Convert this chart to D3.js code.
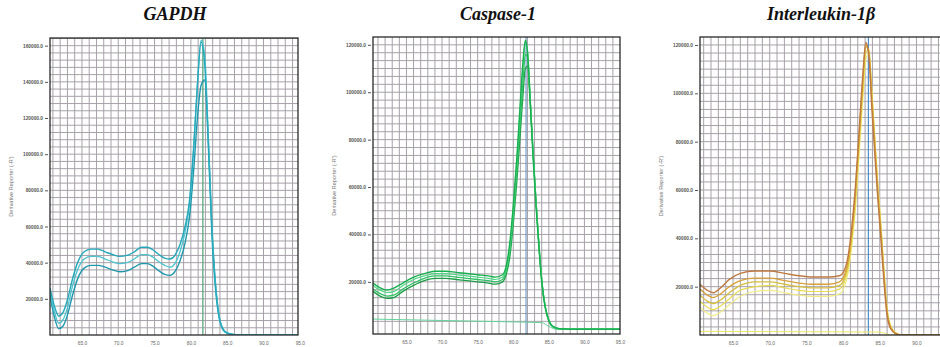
<!DOCTYPE html>
<html><head><meta charset="utf-8">
<script src="https://cdn.jsdelivr.net/npm/d3@7"></script>
<style>body{margin:0;background:#fff;overflow:hidden}</style></head>
<body><svg id="c" width="940" height="347"></svg>
<script>
// ---------- DATA ----------
const titles = ["GAPDH", "Caspase-1", "Interleukin-1β"];
const yAxisTitle = "Derivative Reporter (-R')";
const xTickValues = [65, 70, 75, 80, 85, 90, 95];
const gapdhYTicks = [20000, 40000, 60000, 80000, 100000, 120000, 140000, 160000];
const caspYTicks = [20000, 40000, 60000, 80000, 100000, 120000];
const ilYTicks = [20000, 40000, 60000, 80000, 100000, 120000];
const tmValues = [81.65, 81.8, 83.45];

const gapdhTemp = [60.6, 61.2, 61.8, 62.4, 63.0, 63.7, 64.5, 65.3, 66.2, 67.2, 68.2, 69.2, 70.2, 71.2, 72.2, 73.2, 74.0, 74.8, 75.6, 76.4, 77.1, 77.8, 78.5, 79.2, 79.8, 80.4, 80.9, 81.4, 81.9, 82.4, 82.9, 83.4, 83.9, 84.4, 85.0, 86.0, 88.0, 91.0, 94.75];
const gapdhA = [26000, 16000, 10500, 12500, 19500, 31000, 41000, 46000, 47500, 47500, 46000, 44500, 43500, 44000, 46000, 48500, 48500, 47000, 44500, 42500, 42000, 44000, 50000, 60000, 74000, 105000, 138000, 162000, 150000, 105000, 55000, 25000, 9000, 3000, 1000, 200, 0, 0, 0];
const gapdhB = [24000, 13000, 6500, 8500, 15000, 27000, 37000, 42000, 43500, 43500, 42000, 40500, 39500, 40000, 42000, 44500, 44500, 43000, 40500, 38500, 37500, 39500, 46000, 57000, 72000, 104000, 139000, 163000, 155000, 110000, 58000, 27000, 10000, 3200, 1000, 200, 0, 0, 0];
const gapdhC = [22000, 10000, 3500, 5000, 11000, 22000, 32000, 37000, 38500, 38500, 37500, 36000, 35000, 35500, 37500, 39500, 39500, 38000, 35500, 33500, 33000, 35000, 41000, 51000, 65000, 92000, 120000, 138000, 141000, 108000, 60000, 28000, 10500, 3500, 1100, 200, 0, 0, 0];

const caspTemp = [60.3, 61.3, 62.3, 63.3, 64.5, 66.0, 67.5, 69.0, 70.5, 72.0, 73.5, 75.0, 76.5, 77.5, 78.5, 79.0, 79.5, 80.0, 80.5, 81.0, 81.4, 81.7, 82.0, 82.4, 82.8, 83.2, 83.6, 84.0, 84.5, 85.0, 85.6, 86.5, 88.0, 95.0];
const caspA = [19500, 17500, 16500, 17500, 19500, 22000, 23500, 24500, 24500, 24000, 23500, 23000, 22500, 22000, 23000, 26500, 36000, 52000, 72000, 96000, 114000, 122000, 117000, 95000, 72000, 52000, 35000, 20000, 9000, 3500, 1000, 200, 0, 0];
const caspB = [18500, 16500, 15500, 16000, 18500, 21000, 22500, 23500, 23500, 23000, 22500, 22000, 21500, 21000, 22000, 25500, 34000, 50000, 70000, 94000, 112000, 121000, 118000, 97000, 74000, 54000, 36000, 21000, 9500, 3800, 1100, 200, 0, 0];
const caspC = [17000, 15000, 14000, 14500, 17000, 19500, 21500, 22500, 22500, 22000, 21500, 21000, 20500, 20000, 21000, 24500, 32000, 47000, 66000, 88000, 106000, 116000, 115000, 96000, 74000, 54000, 36000, 21000, 9500, 3800, 1100, 200, 0, 0];
const caspD = [16000, 14000, 13000, 13500, 16000, 18500, 20500, 21500, 21500, 21000, 20500, 20000, 19500, 19000, 20000, 23000, 30000, 44000, 62000, 83000, 100000, 110000, 111000, 95000, 74000, 54000, 36000, 21000, 9500, 3800, 1100, 200, 0, 0];
const caspNtcTemp = [60.3, 65, 70, 75, 80, 84, 85, 86, 95];
const caspNtc = [4300, 4000, 3700, 3400, 3100, 2800, 1200, 0, 0];

const ilTemp = [60.5, 61.5, 62.3, 63.3, 64.5, 66.0, 68.0, 70.0, 72.0, 74.0, 76.0, 78.0, 79.5, 80.2, 80.7, 81.2, 81.7, 82.2, 82.7, 83.1, 83.5, 83.9, 84.3, 84.7, 85.2, 85.6, 86.0, 86.5, 87.2, 88.0, 94.5];
const ilBrown = [21000, 18500, 17500, 19500, 23000, 25500, 26500, 26500, 25500, 24500, 24000, 24000, 24500, 27000, 33000, 45000, 62000, 85000, 108000, 121000, 116000, 95000, 76000, 58000, 38000, 21000, 8000, 2500, 500, 0, 0];
const ilGold = [19000, 16500, 15500, 17000, 20000, 22500, 23500, 23500, 22500, 21500, 21000, 21000, 22000, 25000, 31000, 43000, 60000, 83000, 106000, 120000, 117000, 98000, 79000, 60000, 40000, 23000, 9000, 3000, 600, 0, 0];
const ilOlive = [16500, 14000, 13000, 14500, 17500, 20500, 22000, 22000, 21000, 20000, 19500, 19500, 20500, 23500, 29500, 41000, 58000, 81000, 104000, 119000, 118000, 100000, 81000, 62000, 42000, 24000, 10000, 3200, 700, 0, 0];
const ilYellow = [14000, 11500, 10500, 12000, 15000, 18500, 20000, 20500, 19500, 18500, 18000, 18000, 19000, 22000, 28000, 39000, 55000, 78000, 101000, 117000, 118000, 101000, 82000, 63000, 43000, 25000, 10500, 3500, 800, 0, 0];
const ilPale = [11500, 9000, 8000, 9500, 12500, 16000, 18000, 18500, 17500, 16500, 16000, 16000, 17000, 20000, 26000, 37000, 53000, 75000, 98000, 114000, 117000, 102000, 83000, 64000, 44000, 26000, 11000, 3800, 900, 0, 0];
const ilNtcTemp = [60.5, 70, 80, 85, 86.5, 94.5];
const ilNtc = [1500, 1400, 1300, 1200, 0, 0];

// ---------- DRAW ----------
const svg = d3.select("#c");
const panels = [
  { title: titles[0], box: {x0: 50, x1: 298, y0: 38, y1: 335}, xDom: [60.6, 94.75], yDom: [0, 164250],
    yTicks: gapdhYTicks, gridY: 4000, titleX: 175, tm: tmValues[0], tmColor: "#5aa982", tmW: 1.3,
    series: [
      {t: gapdhTemp, v: gapdhC, c: "#1f98ad", w: 1.4},
      {t: gapdhTemp, v: gapdhB, c: "#4cc3cf", w: 1.3},
      {t: gapdhTemp, v: gapdhA, c: "#25a8bb", w: 1.4}
    ]},
  { title: titles[1], box: {x0: 373, x1: 620, y0: 37, y1: 334}, xDom: [60.3, 95.0], yDom: [-2000, 123300],
    yTicks: caspYTicks, gridY: 10000/3, titleX: 498, tm: tmValues[1], tmColor: "#5a8fc0", tmW: 1,
    series: [
      {t: caspNtcTemp, v: caspNtc, c: "#62d49a", w: 1},
      {t: caspTemp, v: caspD, c: "#1e9e48", w: 1.3},
      {t: caspTemp, v: caspC, c: "#2fc163", w: 1.3},
      {t: caspTemp, v: caspB, c: "#4fd884", w: 1.2},
      {t: caspTemp, v: caspA, c: "#17b04e", w: 1.4}
    ]},
  { title: titles[2], box: {x0: 700, x1: 948, y0: 37, y1: 335}, xDom: [60.5, 94.3], yDom: [0, 123300],
    yTicks: ilYTicks, gridY: 10000/3, titleX: 821, tm: tmValues[2], tmColor: "#4a90d0", tmW: 1.2,
    series: [
      {t: ilNtcTemp, v: ilNtc, c: "#ece668", w: 1},
      {t: ilTemp, v: ilPale, c: "#f1ec86", w: 1.2},
      {t: ilTemp, v: ilYellow, c: "#e8dc52", w: 1.2},
      {t: ilTemp, v: ilOlive, c: "#d6bf3c", w: 1.3},
      {t: ilTemp, v: ilGold, c: "#d8a03a", w: 1.3},
      {t: ilTemp, v: ilBrown, c: "#bf7a42", w: 1.4}
    ]}
];

panels.forEach((p, i) => {
  const b = p.box;
  const x = d3.scaleLinear().domain(p.xDom).range([b.x0, b.x1]);
  const y = d3.scaleLinear().domain(p.yDom).range([b.y1, b.y0]);
  const g = svg.append("g");
  const clipId = "clip" + i;
  svg.append("clipPath").attr("id", clipId).append("rect")
    .attr("x", b.x0).attr("y", b.y0).attr("width", b.x1 - b.x0).attr("height", b.y1 - b.y0);

  // grid
  const grid = g.append("g").attr("clip-path", `url(#${clipId})`);
  d3.range(Math.ceil(p.xDom[0]), p.xDom[1], 1).forEach(t => {
    grid.append("line").attr("x1", x(t)).attr("x2", x(t)).attr("y1", b.y0).attr("y2", b.y1)
      .attr("stroke", "#a6a1a8").attr("stroke-width", 1);
  });
  d3.range(p.gridY, p.yDom[1], p.gridY).forEach(v => {
    grid.append("line").attr("x1", b.x0).attr("x2", b.x1).attr("y1", y(v)).attr("y2", y(v))
      .attr("stroke", "#a6a1a8").attr("stroke-width", 1);
  });

  // Tm marker
  grid.append("line").attr("x1", x(p.tm)).attr("x2", x(p.tm)).attr("y1", b.y0).attr("y2", b.y1)
    .attr("stroke", p.tmColor).attr("stroke-width", p.tmW);

  // curves
  const line = d3.line().x(d => x(d[0])).y(d => y(d[1])).curve(d3.curveMonotoneX);
  const cg = g.append("g").attr("clip-path", `url(#${clipId})`);
  p.series.forEach(s => {
    cg.append("path").datum(s.t.map((t, k) => [t, s.v[k]]))
      .attr("d", line).attr("fill", "none").attr("stroke", s.c).attr("stroke-width", s.w);
  });

  // frame
  g.append("rect").attr("x", b.x0).attr("y", b.y0).attr("width", b.x1 - b.x0).attr("height", b.y1 - b.y0)
    .attr("fill", "none").attr("stroke", "#2a2a2a").attr("stroke-width", 1.3);

  // y axis
  const ya = d3.axisLeft(y).tickValues(p.yTicks).tickSize(3).tickPadding(2).tickFormat(d3.format(".1f"));
  const yg = g.append("g").attr("transform", `translate(${b.x0 - 2},0)`).call(ya);
  yg.select(".domain").remove();
  yg.selectAll("text").attr("font-family", "Liberation Sans, Arial, sans-serif").attr("font-size", 4.8)
    .attr("font-weight", "bold").attr("fill", "#555");
  yg.selectAll("line").attr("stroke", "#555");

  // x axis
  const xa = d3.axisBottom(x).tickValues(xTickValues.filter(t => x(t) <= 940)).tickSize(0).tickPadding(7).tickFormat(d3.format(".1f"));
  const xg = g.append("g").attr("transform", `translate(0,${b.y1})`).call(xa);
  xg.select(".domain").remove();
  xg.selectAll("text").attr("font-family", "Liberation Sans, Arial, sans-serif").attr("font-size", 4.8)
    .attr("fill", "#666");

  // y title
  const cy = (b.y0 + b.y1) / 2;
  g.append("text").attr("transform", `translate(${b.x0 - 37},${cy}) rotate(-90)`)
    .attr("text-anchor", "middle").attr("font-family", "Liberation Sans, Arial, sans-serif")
    .attr("font-size", 5.6).attr("fill", "#777").text(yAxisTitle);

  // title
  g.append("text").attr("x", p.titleX).attr("y", 20).attr("text-anchor", "middle")
    .attr("font-family", "Liberation Serif, Times New Roman, serif").attr("font-style", "italic")
    .attr("font-weight", "bold").attr("font-size", 18).attr("fill", "#111").text(p.title);
});
</script>
</body></html>
